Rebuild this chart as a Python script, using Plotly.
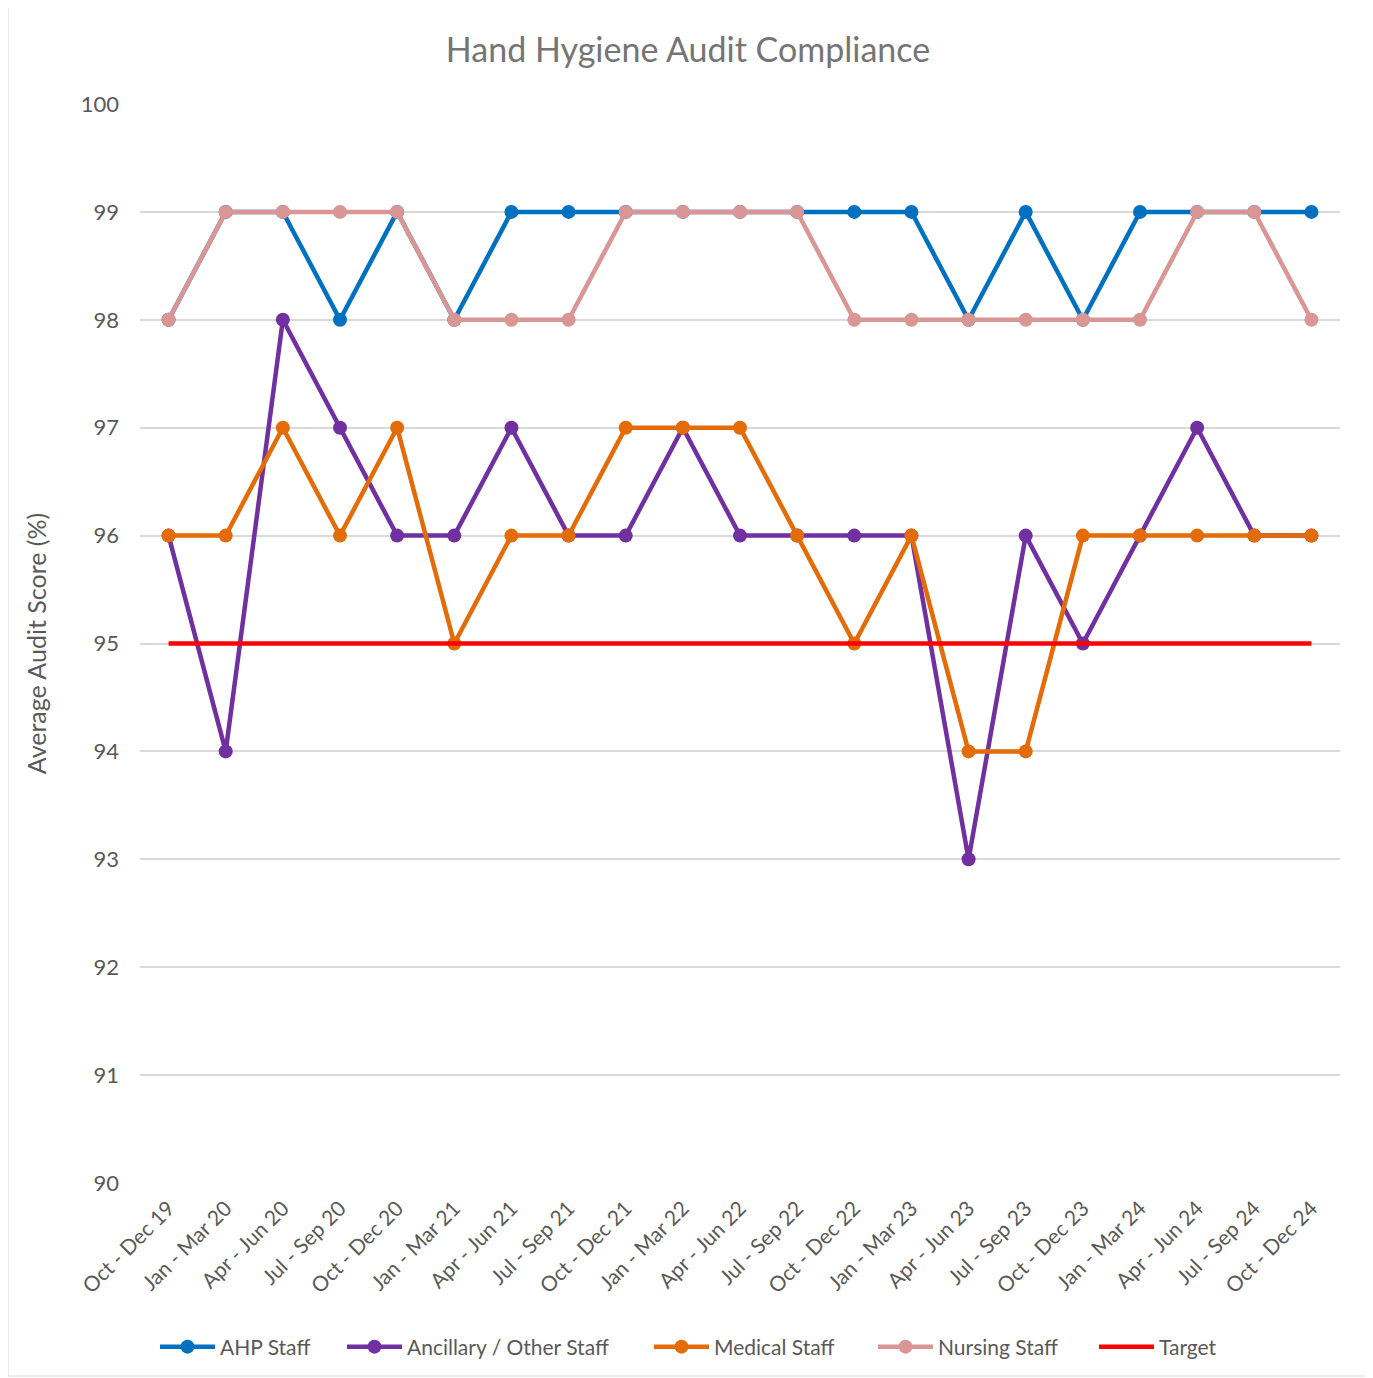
import plotly.graph_objects as go

categories = ["Oct - Dec 19", "Jan - Mar 20", "Apr - Jun 20", "Jul - Sep 20", "Oct - Dec 20",
              "Jan - Mar 21", "Apr - Jun 21", "Jul - Sep 21", "Oct - Dec 21", "Jan - Mar 22",
              "Apr - Jun 22", "Jul - Sep 22", "Oct - Dec 22", "Jan - Mar 23", "Apr - Jun 23",
              "Jul - Sep 23", "Oct - Dec 23", "Jan - Mar 24", "Apr - Jun 24", "Jul - Sep 24",
              "Oct - Dec 24"]
ahp = [98, 99, 99, 98, 99, 98, 99, 99, 99, 99, 99, 99, 99, 99, 98, 99, 98, 99, 99, 99, 99]
ancillary = [96, 94, 98, 97, 96, 96, 97, 96, 96, 97, 96, 96, 96, 96, 93, 96, 95, 96, 97, 96, 96]
medical = [96, 96, 97, 96, 97, 95, 96, 96, 97, 97, 97, 96, 95, 96, 94, 94, 96, 96, 96, 96, 96]
nursing = [98, 99, 99, 99, 99, 98, 98, 98, 99, 99, 99, 99, 98, 98, 98, 98, 98, 98, 99, 99, 98]
target = [95] * len(categories)

y_ticks = [90, 91, 92, 93, 94, 95, 96, 97, 98, 99, 100]

series = [
    ("AHP Staff", ahp, "#0070C0", True),
    ("Ancillary / Other Staff", ancillary, "#7030A0", True),
    ("Medical Staff", medical, "#E36C09", True),
    ("Nursing Staff", nursing, "#D99694", True),
    ("Target", target, "#FF0000", False),
]

# page is offset by 8px body margin
W, H = 1365, 1370
ml, mr, mt, mb = 132, 33, 96, 195
pw = W - ml - mr
ph = H - mt - mb

font_family = "Lato, Open Sans, sans-serif"
legend_text_starts = [221, 408, 715, 939, 1160]  # page px of legend texts in reference
legend_y = 1 - 1339 / H

fig = go.Figure()
legend_layouts = {}
for i, (name, vals, color, markers) in enumerate(series):
    lname = "legend" if i == 0 else f"legend{i + 1}"
    fig.add_trace(go.Scatter(
        x=categories, y=vals, name=name,
        mode="lines+markers" if markers else "lines",
        line=dict(color=color, width=4.5),
        marker=dict(color=color, size=14),
        legend=lname, showlegend=True,
    ))
    legend_layouts[lname] = dict(
        orientation="h", xref="container", yref="container",
        x=(legend_text_starts[i] - 8 - 66) / W, xanchor="left",
        y=legend_y, yanchor="middle",
        font=dict(size=21, color="#595959", family=font_family),
        itemwidth=55, bgcolor="rgba(0,0,0,0)",
    )

fig.update_layout(
    width=W, height=H,
    showlegend=True,
    margin=dict(l=ml, r=mr, t=mt, b=mb),
    paper_bgcolor="white", plot_bgcolor="white",
    font=dict(family=font_family, color="#595959", size=21),
    title=dict(text="Hand Hygiene Audit Compliance", x=(688 - 8) / W, xanchor="center",
               y=1 - 42 / H, yanchor="middle",
               font=dict(size=34, color="#757575", family=font_family)),
    xaxis=dict(type="category", range=[-0.5, len(categories) - 0.5],
               tickangle=-45, showgrid=False, zeroline=False, showline=False,
               ticks="", ticklabelstandoff=8, tickfont=dict(size=21, color="#595959")),
    yaxis=dict(range=[90, 100], tickvals=y_ticks, showgrid=True, gridcolor="#D9D9D9",
               gridwidth=1.5, zeroline=False, showline=False, ticks="",
               ticklabelstandoff=20,
               title=dict(text="Average Audit Score (%)", font=dict(size=25, color="#595959"),
                          standoff=26),
               tickfont=dict(size=22, color="#595959")),
    shapes=[dict(type="rect", xref="paper", yref="paper",
                 x0=(0 - ml) / pw, x1=(1362 - ml) / pw,
                 y0=-(1368 - (H - mb)) / ph, y1=1 + (mt + 2) / ph,
                 line=dict(color="#D9D9D9", width=1), layer="below")],
    **legend_layouts,
)

fig.write_html("out.html")
